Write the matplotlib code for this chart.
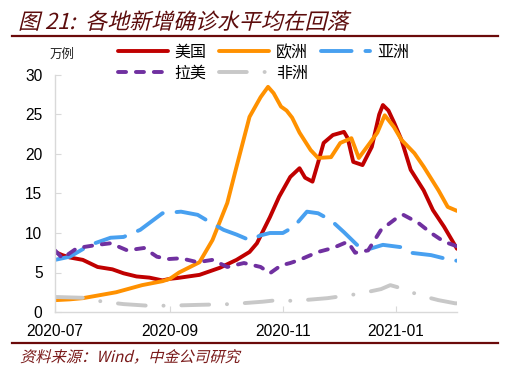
import numpy as np
import pandas as pd
import matplotlib
matplotlib.use('Agg')
import matplotlib.pyplot as plt
import matplotlib.dates as mdates
from matplotlib.textpath import TextPath
from matplotlib.patches import PathPatch
from matplotlib.font_manager import FontProperties
from matplotlib.transforms import Affine2D, IdentityTransform
from matplotlib.lines import Line2D

plt.rcParams['font.family'] = ['Liberation Sans', 'Noto Sans CJK SC', 'DejaVu Sans']
plt.rcParams['lines.scale_dashes'] = False

start = pd.Timestamp('2020-07-01')

# days since 2020-07-01, values in 10k cases
us_days = [0, 4, 8, 15, 23, 31, 37, 44, 51, 58, 62, 66, 78, 89, 98, 105, 109, 116, 121, 127,
           132, 135, 139, 142, 145, 150, 156, 158, 161, 166, 171, 175, 177, 180, 183, 187,
           192, 199, 204, 210, 216, 217]
us_vals = [7.6, 7.2, 6.9, 6.6, 5.7, 5.4, 4.9, 4.5, 4.35, 4.0, 4.2, 4.3, 4.7, 5.6, 6.6, 7.6, 8.7,
           12.0, 14.6, 17.1, 18.2, 17.0, 16.5, 18.9, 21.4, 22.4, 22.8, 22.0, 19.0, 18.6, 20.9,
           25.0, 26.2, 25.5, 24.0, 21.8, 18.0, 15.4, 12.9, 10.8, 8.4, 8.0]

eu_days = [0, 8, 15, 33, 47, 58, 62, 67, 78, 85, 93, 98, 105, 111, 115, 118, 122, 125, 128,
           132, 138, 142, 149, 154, 160, 164, 170, 174, 178, 183, 187, 194, 199, 207, 212, 217]
eu_vals = [1.5, 1.6, 1.75, 2.5, 3.4, 3.9, 4.2, 5.0, 6.3, 9.1, 13.8, 18.4, 24.7, 27.2, 28.5,
           27.7, 26.0, 25.5, 24.6, 22.7, 20.5, 19.5, 19.6, 21.4, 22.0, 19.5, 21.4, 22.7, 24.9,
           23.4, 21.8, 20.1, 18.4, 15.4, 13.3, 12.8]

as_days = [0, 8, 19, 30, 37, 46, 58, 68, 77, 82, 91, 98, 105, 111, 116, 123, 129, 136, 142,
           149, 156, 163, 170, 177, 187, 192, 203, 215, 217]
as_vals = [6.6, 7.0, 8.5, 9.4, 9.5, 10.4, 12.5, 12.7, 12.3, 11.6, 10.4, 9.8, 9.1, 9.7, 10.0,
           10.0, 10.8, 12.7, 12.5, 11.6, 10.1, 8.5, 8.0, 8.5, 8.2, 7.5, 7.2, 6.5, 6.5]

la_days = [0, 4, 12, 23, 30, 39, 48, 55, 61, 68, 77, 85, 93, 102, 111, 116, 122, 127, 132,
           142, 150, 158, 162, 169, 176, 185, 188, 196, 203, 210, 216, 217]
la_vals = [7.8, 6.8, 8.1, 8.5, 8.7, 7.8, 8.1, 7.0, 6.7, 6.8, 6.3, 6.6, 5.7, 6.2, 5.7, 4.9, 5.9,
           6.2, 6.6, 7.6, 8.1, 8.9, 7.5, 7.8, 10.4, 12.0, 12.3, 11.3, 10.0, 8.9, 8.4, 8.3]

af_days = [0, 15, 26, 37, 50, 61, 77, 95, 112, 120, 129, 147, 164, 176, 181, 187, 197, 207,
           216, 217]
af_vals = [1.9, 1.8, 1.3, 1.0, 0.8, 0.8, 0.9, 1.0, 1.3, 1.5, 1.4, 1.75, 2.3, 2.9, 3.4, 3.0,
           2.1, 1.5, 1.1, 1.1]

series = [
    ('美国', us_days, us_vals, '#C00000', None),
    ('欧洲', eu_days, eu_vals, '#FF9100', None),
    ('亚洲', as_days, as_vals, '#48A0F0', (0, (22, 10))),
    ('拉美', la_days, la_vals, '#7030A0', (0, (5.8, 7.1))),
    ('非洲', af_days, af_vals, '#C8C8C8', (0, (20, 12.8, 0.1, 12.8))),
]

x_ticks = ['2020-07-01', '2020-09-01', '2020-11-01', '2021-01-01']
title = '图 21:  各地新增确诊水平均在回落'
source = '资料来源：Wind，中金公司研究'

W, H = 516, 379
fig = plt.figure(figsize=(W / 100, H / 100), dpi=100)
ax = fig.add_axes([55 / W, 1 - 312 / H, (457 - 55) / W, (312 - 75) / H])

handles = {}
for name, days, vals, color, ls in series:
    x = start + pd.to_timedelta(days, unit='D')
    kw = dict(color=color, lw=2.8, solid_capstyle='round', dash_capstyle='round', label=name)
    if ls is not None:
        kw['linestyle'] = ls
    line, = ax.plot(x, vals, **kw)
    handles[name] = line

ax.set_ylim(0, 30)
ax.set_yticks(np.arange(0, 31, 5))
ax.set_xlim(start, start + pd.Timedelta(days=217))
ax.set_xticks(pd.to_datetime(x_ticks))
ax.xaxis.set_major_formatter(mdates.DateFormatter('%Y-%m'))
for s in ['top', 'right']:
    ax.spines[s].set_visible(False)
for s in ['left', 'bottom']:
    ax.spines[s].set_color('#D9D9D9')
    ax.spines[s].set_linewidth(1)
ax.tick_params(axis='both', direction='in', length=4, color='#D9D9D9', labelsize=11.2,
               labelcolor='black')
ax.tick_params(axis='y', pad=9)
ax.tick_params(axis='x', pad=9)

order = ['美国', '拉美', '欧洲', '非洲', '亚洲']
ax.legend([handles[n] for n in order], order, ncol=3, frameon=False,
          loc='upper left', bbox_to_anchor=(118 / W, 1 - 44 / H), bbox_transform=fig.transFigure,
          prop={'family': 'Noto Sans CJK SC', 'size': 11.5}, handlelength=3.1,
          handletextpad=0.45, columnspacing=0.8, labelspacing=0.25, borderpad=0,
          borderaxespad=0)

fig.text(62 / W, 1 - 54 / H, '万例', ha='center', va='center', fontsize=9,
         family='Noto Sans CJK SC', color='#222222')


def skew_text(s, x, y, size, color):
    fp = FontProperties(family='Noto Sans CJK SC', size=size)
    tp = TextPath((0, 0), s, size=size, prop=fp)
    tr = Affine2D().skew_deg(14, 0).scale(100 / 72).translate(x, y)
    fig.patches.append(PathPatch(tr.transform_path(tp), transform=IdentityTransform(),
                                 color=color, lw=0, figure=fig))


skew_text(title, 18, H - 29, 15.8, '#5C0C0C')
skew_text(source, 20, H - 362, 11, '#7A1A1A')

for yy in [H - 36, H - 343]:
    fig.add_artist(Line2D([12 / W, 498 / W], [yy / H, yy / H], color='#6B0A0A', lw=1.6,
                          transform=fig.transFigure))

fig.savefig('out.png', dpi=100)
